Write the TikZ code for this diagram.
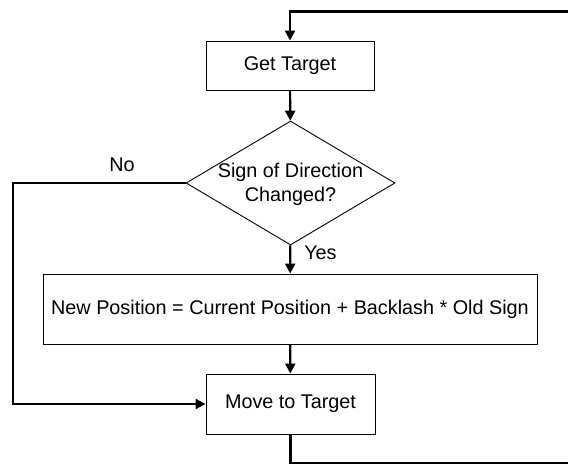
\documentclass[tikz,border=0pt]{standalone}
\usepackage{fontspec}
\setmainfont{Liberation Sans}
\usetikzlibrary{shapes.geometric,arrows.meta}

\tikzset{
  box/.style={draw=black, line width=0.9pt, rectangle, inner sep=0pt, align=center},
  decision/.style={draw=black, line width=0.9pt, diamond, inner sep=0pt},
  conn/.style={draw=black, line width=2.2pt, -{Triangle[length=10pt,width=10pt]}},
  lbl/.style={inner sep=0pt},
}

\begin{document}
\begin{tikzpicture}[x=1pt, y=-1pt, font=\fontsize{19.8}{24}\selectfont]
  \useasboundingbox (0,0) rectangle (568,464);

  % process steps
  \node[box, minimum width=168pt, minimum height=49pt] (get) at (290,65.5) {Get Target};
  \node[decision, minimum width=209pt, minimum height=124pt] (dec) at (290.5,183) {};
  \node[lbl, align=center] (dectext) at (290.5,184) {Sign of Direction\\Changed?};
  \node[box, minimum width=494pt, minimum height=70pt] (calc) at (290,309)
    {New Position = Current Position + Backlash * Old Sign};
  \node[box, minimum width=169pt, minimum height=60pt] (move) at (290.5,404) {Move to Target};

  % corners of the routed connectors
  \coordinate (lft) at (13,404);
  \coordinate (br) at (590,463);
  \coordinate (tr) at (590,11.5);

  % flow
  \draw[conn] (get) -- (dec);
  \draw[conn] (dec) -- node[lbl, anchor=west, pos=0.28, xshift=13pt] (yes) {Yes} (calc);
  \draw[conn] (calc) -- (move);
  \draw[conn] (dec.west) -| (lft) -- (move.west);
  \node[lbl] (no) at (122,165) {No};
  \draw[conn] (move.south) |- (br) -- (tr) -| (get.north);
\end{tikzpicture}
\end{document}
